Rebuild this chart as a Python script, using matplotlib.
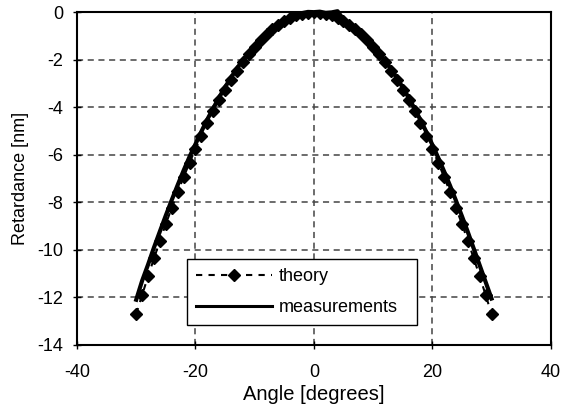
import matplotlib
matplotlib.use("Agg")
import matplotlib.pyplot as plt

# angle [deg] for both series
angle = list(range(-30, 31))

# theoretical retardance [nm], one value per degree
theory = [-12.70, -11.90, -11.11, -10.36, -9.62, -8.91, -8.23, -7.57, -6.94, -6.33,
          -5.75, -5.20, -4.67, -4.17, -3.70, -3.26, -2.84, -2.45, -2.09, -1.76,
          -1.46, -1.18, -0.93, -0.71, -0.53, -0.37, -0.23, -0.13, -0.06, -0.01,
          0.00,
          -0.01, -0.06, -0.13, -0.23, -0.37, -0.53, -0.71, -0.93, -1.18, -1.46,
          -1.76, -2.09, -2.45, -2.84, -3.26, -3.70, -4.17, -4.67, -5.20, -5.75,
          -6.33, -6.94, -7.57, -8.23, -8.91, -9.62, -10.36, -11.11, -11.90, -12.70]

# measured retardance [nm]
measured = [-12.10, -11.30, -10.62, -9.90, -9.22, -8.55, -7.90, -7.27, -6.66, -6.08,
            -5.55, -5.02, -4.51, -4.04, -3.58, -3.15, -2.75, -2.36, -2.01, -1.69,
            -1.40, -1.12, -0.88, -0.66, -0.47, -0.31, -0.18, -0.08, -0.03, 0.02,
            0.01,
            0.03, -0.02, 0.00, 0.05, -0.30, -0.49, -0.68, -0.90, -1.14, -1.41,
            -1.70, -2.03, -2.38, -2.76, -3.16, -3.59, -4.05, -4.53, -5.04, -5.57,
            -6.12, -6.70, -7.30, -7.93, -8.58, -9.25, -9.95, -10.65, -11.35, -12.05]

plt.rcParams['font.family'] = ['Liberation Sans', 'DejaVu Sans']
plt.rcParams['font.size'] = 13
plt.rcParams['axes.unicode_minus'] = False

fig = plt.figure(figsize=(5.62, 4.13), dpi=100)
ax = fig.add_axes([0.137, 0.165, 0.843, 0.805])

ax.plot(angle, theory, color='black', linestyle=(0, (3, 3)), linewidth=1.5,
        marker='D', markersize=6.5, label='theory', zorder=3)
ax.plot(angle, measured, color='black', linestyle='-', linewidth=3,
        label='measurements', zorder=4, clip_on=False)

ax.set_xlim(-40, 40)
ax.set_ylim(-14, 0)
ax.set_xticks([-40, -20, 0, 20, 40])
ax.set_yticks(range(-14, 1, 2))
ax.set_xlabel('Angle [degrees]', fontsize=14.5, labelpad=3)
ax.set_ylabel('Retardance [nm]', labelpad=6)

ax.grid(True, color='#444444', linestyle=(0, (4, 3)), linewidth=1.1)
ax.tick_params(direction='inout', length=6, width=1, colors='black')
ax.tick_params(axis='x', pad=11)
ax.tick_params(axis='y', pad=7)
for s in ax.spines.values():
    s.set_linewidth(1.5)

leg = ax.legend(loc='lower left', bbox_to_anchor=(0.232, 0.06, 0.485, 0.198),
                mode='expand', borderaxespad=0, fancybox=False, edgecolor='black',
                framealpha=1, handlelength=4.2, handletextpad=0.4,
                borderpad=0.5, labelspacing=0.75)
leg.get_frame().set_linewidth(1.0)
leg.get_lines()[1].set_linewidth(2.2)

plt.savefig('out.png', dpi=100)
plt.close()
